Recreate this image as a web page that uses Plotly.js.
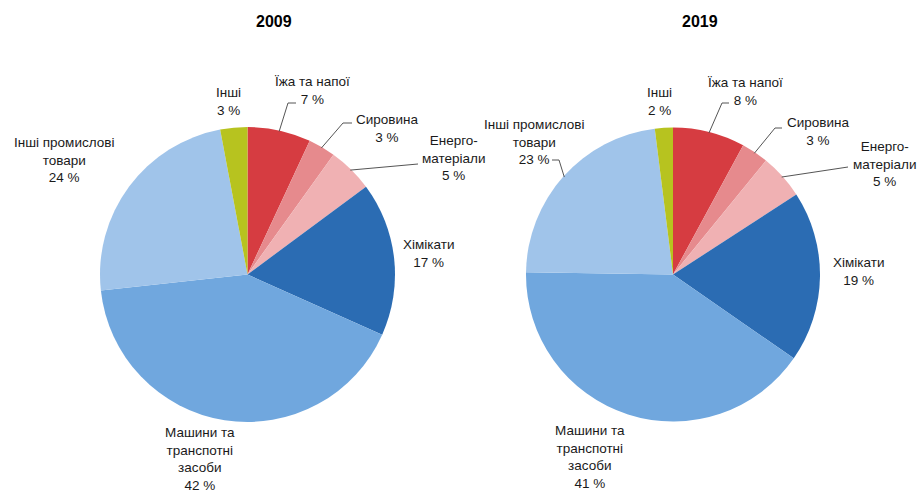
<!DOCTYPE html>
<html>
<head>
<meta charset="utf-8">
<script src="https://cdn.plot.ly/plotly-3.0.1.min.js"></script>
<style>html,body{margin:0;padding:0;background:#fff;}#chart{width:921px;height:493px;}</style>
</head>
<body>
<div id="chart"></div>
<script>
// ---- data ----
const categories = ['Їжа та напої', 'Сировина', 'Енерго-матеріали', 'Хімікати', 'Машини та транспотні засоби', 'Інші промислові товари', 'Інші'];
const labelText = ['Їжа та напої', 'Сировина', 'Енерго-<br>матеріали', 'Хімікати', 'Машини та<br>транспотні<br>засоби', 'Інші промислові<br>товари', 'Інші'];
const years = ['2009', '2019'];
const values2009 = [7, 3, 5, 17, 42, 24, 3];
const values2019 = [8, 3, 5, 19, 41, 23, 2];

// ---- styling / layout ----
const W = 921, H = 493;
const colors = ['#d63c41', '#e68a8d', '#f0b1b3', '#2b6cb3', '#70a7de', '#a0c4ea', '#b7c31f'];
const textColor = '#1a1a1a';
const lineColor = '#555555';
const fontFam = 'Liberation Sans, Arial, sans-serif';
const fontSize = 13.5;

const domains = [
  {x: [100 / W, 395 / W], y: [71 / H, 366 / H]},
  {x: [526 / W, 820 / W], y: [71 / H, 366 / H]}
];
// label centre offsets from pie centre (px, y downward); leader: [elbow/end offsets] or null
const labelPos = [
  [[64.5, -183.5], [139, -146.5], [206, -116.5], [180.5, -21.5], [-47.5, 184], [-183.5, -114.5], [-19.5, -173]],
  [[72, -183], [145, -143.5], [211, -110.5], [185, -3.5], [-83, 182.5], [-139, -132.5], [-14, -172.5]]
];
const leaders = [
  [[[40.5, -171.5], [48.5, -171.5]], [[95.5, -151.5], [104.5, -151.5]], [[170.5, -110.5]], null, null, null, null],
  [[[49, -171.5], [56, -171.5]], [[102, -146.5], [109, -146.5]], [[175, -107.5]], null, null, [[-114, -114.5], [-121, -114.5]], null]
];

const allValues = [values2009, values2019];
const data = [];
const annotations = [];
const shapes = [];

allValues.forEach((vals, k) => {
  const dom = domains[k];
  data.push({
    type: 'pie',
    values: vals,
    labels: categories,
    sort: false,
    direction: 'clockwise',
    rotation: 0,
    textinfo: 'none',
    hoverinfo: 'label+value',
    domain: dom,
    marker: {colors: colors, line: {width: 0}},
    showlegend: false
  });
  const cx = (dom.x[0] + dom.x[1]) / 2 * W;
  const cy = H - (dom.y[0] + dom.y[1]) / 2 * H;
  const r = Math.min((dom.x[1] - dom.x[0]) * W, (dom.y[1] - dom.y[0]) * H) / 2;
  const px = dx => (cx + dx) / W;
  const py = dy => 1 - (cy + dy) / H;
  const total = vals.reduce((a, b) => a + b, 0);
  let cum = 0;
  vals.forEach((v, i) => {
    const mid = (cum + v / 2) / total * 2 * Math.PI;
    cum += v;
    const [lx, ly] = labelPos[k][i];
    annotations.push({
      xref: 'paper', yref: 'paper', x: px(lx), y: py(ly),
      xanchor: 'center', yanchor: 'middle', align: 'center', showarrow: false,
      borderpad: 0,
      text: labelText[i] + '<br>' + v + ' %',
      font: {family: fontFam, size: fontSize, color: textColor}
    });
    if (leaders[k][i]) {
      const tx = Math.sin(mid) * (r - 1), ty = -Math.cos(mid) * (r - 1);
      let path = 'M ' + px(tx) + ' ' + py(ty);
      leaders[k][i].forEach(p => { path += ' L ' + px(p[0]) + ' ' + py(p[1]); });
      shapes.push({type: 'path', xref: 'paper', yref: 'paper', path: path,
        line: {color: lineColor, width: 1}, fillcolor: 'rgba(0,0,0,0)'});
    }
  });
  annotations.push({
    xref: 'paper', yref: 'paper', x: px(26.5), y: 1 - 22 / H,
    xanchor: 'center', yanchor: 'middle', showarrow: false,
    text: '<b>' + years[k] + '</b>',
    font: {family: fontFam, size: 16, color: '#000'}
  });
});

const layout = {
  width: W, height: H,
  margin: {l: 0, r: 0, t: 0, b: 0},
  paper_bgcolor: '#fff',
  plot_bgcolor: '#fff',
  annotations: annotations,
  shapes: shapes,
  font: {family: fontFam}
};
Plotly.newPlot('chart', data, layout, {displayModeBar: false, staticPlot: true});
</script>
</body>
</html>
